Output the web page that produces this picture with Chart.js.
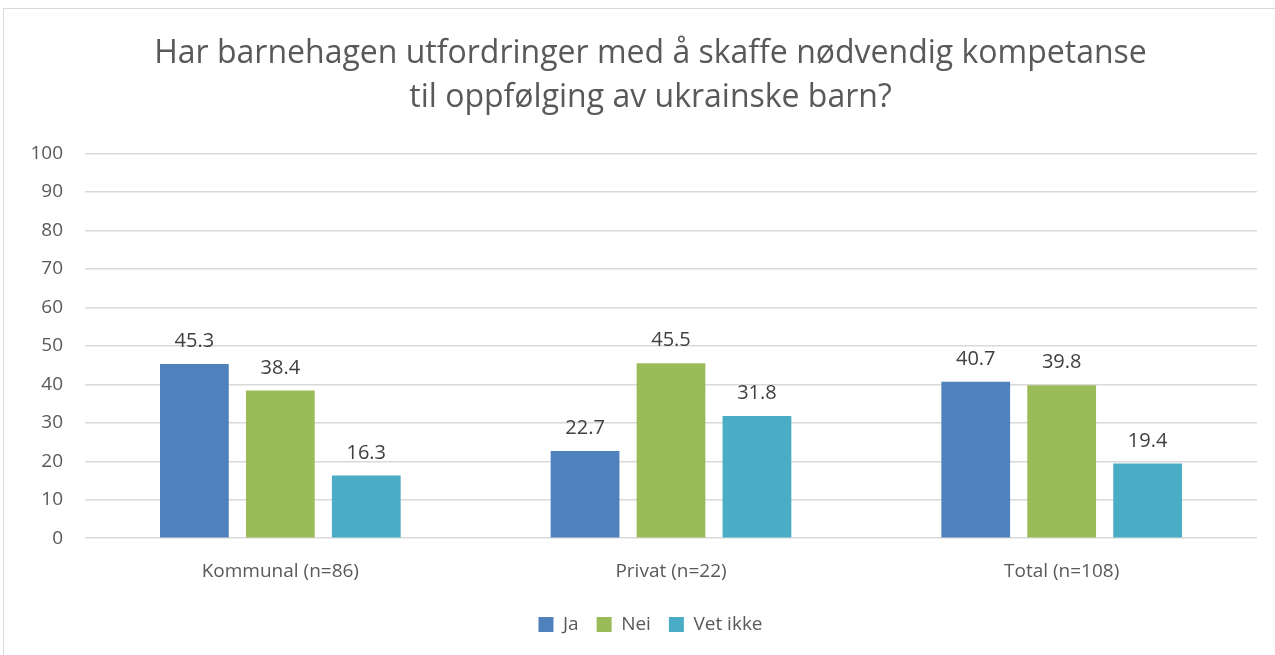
<!DOCTYPE html>
<html lang="no">
<head>
<meta charset="UTF-8">
<title>Kompetanse ukrainske barn</title>
<script src="https://cdn.jsdelivr.net/npm/chart.js"></script>
<style>
  html, body { margin: 0; padding: 0; background: #fff; }
  #wrap { position: relative; width: 1275px; height: 655px; }
  #frame { position: absolute; left: 3px; top: 8px; width: 1290px; height: 660px; border: 1px solid #d9d9d9; box-sizing: border-box; }
  #c { position: absolute; left: 0; top: 0; }
</style>
</head>
<body>
<div id="wrap">
  <div id="frame"></div>
  <canvas id="c" width="1275" height="655"></canvas>
</div>
<script>
const categories = ['Kommunal (n=86)', 'Privat (n=22)', 'Total (n=108)'];
const seriesNames = ['Ja', 'Nei', 'Vet ikke'];
const ja = [45.3, 22.7, 40.7];
const nei = [38.4, 45.5, 39.8];
const vetIkke = [16.3, 31.8, 19.4];
const colors = ['#4f81bd', '#9bbb59', '#4bacc6'];
const titleLines = ['Har barnehagen utfordringer med å skaffe nødvendig kompetanse', 'til oppfølging av ukrainske barn?'];

const FONT = "'Open Sans', 'Liberation Sans', sans-serif";

// value labels above the bars
const valueLabels = {
  id: 'valueLabels',
  afterDatasetsDraw(chart) {
    const ctx = chart.ctx;
    ctx.save();
    ctx.font = '20px ' + FONT;
    ctx.fillStyle = '#404040';
    ctx.textAlign = 'center';
    ctx.textBaseline = 'alphabetic';
    chart.data.datasets.forEach((ds, i) => {
      chart.getDatasetMeta(i).data.forEach((bar, j) => {
        ctx.fillText(ds.data[j].toFixed(1), bar.x, bar.y - 17);
      });
    });
    ctx.restore();
  }
};

new Chart(document.getElementById('c'), {
  type: 'bar',
  data: {
    labels: categories,
    datasets: [
      { label: seriesNames[0], data: ja, backgroundColor: colors[0] },
      { label: seriesNames[1], data: nei, backgroundColor: colors[1] },
      { label: seriesNames[2], data: vetIkke, backgroundColor: colors[2] }
    ]
  },
  options: {
    responsive: false,
    animation: false,
    datasets: { bar: { categoryPercentage: 0.66, barPercentage: 0.8 } },
    layout: { padding: { left: 26, right: 0, top: 20, bottom: 18 } },
    plugins: {
      title: {
        display: true,
        text: titleLines,
        color: '#595959',
        font: { family: FONT, size: 32, weight: 'normal', lineHeight: 1.4 },
        padding: { top: 11, bottom: 33 }
      },
      legend: {
        position: 'bottom',
        maxHeight: 40,
        labels: {
          color: '#595959',
          font: { family: FONT, size: 19 },
          boxWidth: 15,
          boxHeight: 15,
          padding: 18
        }
      },
      tooltip: { enabled: false }
    },
    scales: {
      x: {
        grid: { display: false },
        border: { display: false },
        ticks: { color: '#595959', font: { family: FONT, size: 19 }, padding: 14 }
      },
      y: {
        min: 0,
        max: 100,
        ticks: { stepSize: 10, color: '#595959', font: { family: FONT, size: 19 }, padding: 22 },
        grid: { color: '#d9d9d9', lineWidth: 1.5, drawTicks: false },
        border: { display: false },
        afterFit(scale) { scale.width = 59; }
      },
      yRight: {
        position: 'right',
        display: true,
        grid: { display: false },
        border: { display: false },
        ticks: { display: false },
        afterFit(scale) { scale.width = 18; }
      }
    }
  },
  plugins: [valueLabels]
});
</script>
</body>
</html>
